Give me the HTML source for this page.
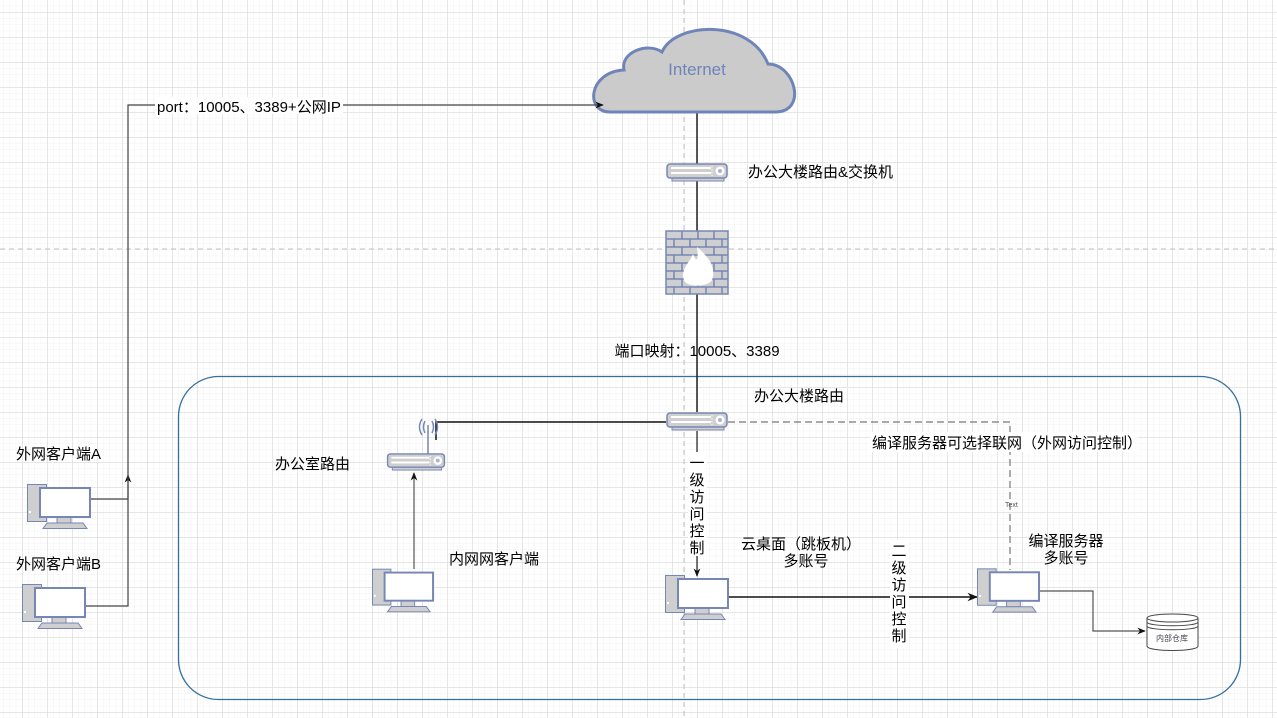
<!DOCTYPE html>
<html><head><meta charset="utf-8"><style>
html,body{margin:0;padding:0;background:#fff;}
svg{display:block;font-family:"Liberation Sans","Noto Sans CJK SC",sans-serif;}
</style></head><body>
<svg width="1277" height="718" viewBox="0 0 1277 718" xmlns="http://www.w3.org/2000/svg">
<defs>
<pattern id="gmin" x="22.5" y="12.5" width="6.25" height="6.25" patternUnits="userSpaceOnUse">
<path d="M6.25 0V6.25M0 6.25H6.25" stroke="#f1f1f1" stroke-width="1" fill="none"/></pattern>
<pattern id="gmaj" x="22.5" y="12.5" width="25" height="25" patternUnits="userSpaceOnUse">
<path d="M0 0V25M0 0H25" stroke="#dcdcdc" stroke-width="1" fill="none"/></pattern>
<symbol id="pc" viewBox="0 0 64 45">
<rect x="0.5" y="0.5" width="19" height="37" fill="#cfcfcf" stroke="#7687b5" stroke-width="1"/>
<rect x="2" y="27" width="2" height="2" fill="#fff"/>
<rect x="30" y="33" width="14" height="6" fill="#cfcfcf" stroke="#7687b5" stroke-width="1"/>
<rect x="13" y="4" width="50" height="29" fill="#fff" stroke="#7687b5" stroke-width="2"/>
<polygon points="16,44.5 60,44.5 56,39 20,39" fill="#cfcfcf" stroke="#7687b5" stroke-width="1"/>
</symbol>
<symbol id="sw" viewBox="0 0 62 19">
<rect x="6" y="14" width="52" height="4" fill="#cfcfcf" stroke="#7687b5"/>
<rect x="1" y="1" width="60" height="14" rx="3" fill="#cfcfcf" stroke="#7687b5" stroke-width="1.5"/>
<g fill="#fff"><rect x="5" y="4" width="40" height="2"/><rect x="5" y="9" width="40" height="2"/></g>
<line x1="46" y1="3" x2="46" y2="13" stroke="#fff" stroke-dasharray="1.5 1.5"/>
<circle cx="54" cy="8" r="4.5" fill="#fff"/><circle cx="54" cy="8" r="2" fill="#a9b4d4"/>
</symbol>
<marker id="ar" viewBox="0 0 10 10" refX="9" refY="5" markerWidth="7" markerHeight="7" orient="auto"><path d="M0 1L10 5L0 9L3 5Z" fill="#111"/></marker>
</defs>
<rect width="1277" height="718" fill="#fff"/>
<rect width="1277" height="718" fill="url(#gmin)"/>
<rect width="1277" height="718" fill="url(#gmaj)"/>
<line x1="684" y1="0" x2="684" y2="718" stroke="#c0c0c0" stroke-dasharray="5 4"/>
<line x1="0" y1="249" x2="1277" y2="249" stroke="#c0c0c0" stroke-dasharray="5 4"/>

<rect x="178.5" y="376.5" width="1062" height="323" rx="40" fill="none" stroke="#336f9e" stroke-width="1.3"/>

<line x1="697" y1="112" x2="697" y2="412" stroke="#222" stroke-width="1.5"/>

<path d="M610 112 C585 112 588 72 624 70 C620 52 648 42 662 52 C675 22 750 18 768 64 C795 64 808 112 775 112 Z" fill="#cbcbcb" stroke="#6f84b8" stroke-width="3"/>
<text x="697" y="75" font-size="17" fill="#6f84b8" text-anchor="middle">Internet</text>

<use href="#sw" x="666" y="163" width="62" height="19"/>
<text x="748" y="177" font-size="15">办公大楼路由&amp;交换机</text>

<g>
<rect x="666" y="231" width="62" height="63" fill="#cfcfcf" stroke="#7687b5" stroke-width="1.5"/>
<g stroke="#7687b5" stroke-width="1.5" fill="none">
<path d="M666 239H728M666 247H728M666 255H728M666 263H728M666 271H728M666 279H728M666 287H728"/>
<path d="M682 231v8M698 231v8M714 231v8M674 239v8M690 239v8M706 239v8M722 239v8M682 247v8M714 247v8M674 255v8M722 255v8M682 263v8M714 263v8M674 271v8M722 271v8M682 279v8M698 279v8M714 279v8M674 287v7M690 287v7M706 287v7M722 287v7"/>
</g>
<path d="M697 247 C710 258 716 268 712 280 C709 287 686 288 684 280 C680 270 690 262 693 254 C696 262 699 262 697 247Z" fill="#fff"/>
</g>

<text x="697" y="356" font-size="15" text-anchor="middle">端口映射：10005、3389</text>
<text x="754" y="401" font-size="15">办公大楼路由</text>

<use href="#sw" x="666" y="412" width="62" height="19"/>

<polyline points="666,422 436,422 436,440" fill="none" stroke="#111" stroke-width="1.5"/>
<g stroke="#7687b5" fill="none" stroke-width="1.5">
<line x1="428" y1="425" x2="428" y2="455"/>
<path d="M425 421q-3 6 0 12M422 419q-5 8 0 16M432 421q3 6 0 12M435 419q5 8 0 16"/>
</g>
<use href="#sw" x="384" y="453" width="64" height="18"/>
<text x="275" y="469" font-size="15">办公室路由</text>

<line x1="414" y1="569" x2="414" y2="473" stroke="#555" stroke-width="1.2" marker-end="url(#ar)"/>
<use href="#pc" x="372" y="568" width="62" height="45"/>
<text x="449" y="564" font-size="15">内网网客户端</text>

<polyline points="728,422 1010,422 1010,570" fill="none" stroke="#777" stroke-width="1.2" stroke-dasharray="7 4"/>
<rect x="870" y="432" width="268" height="20" fill="#fff"/>
<text x="872" y="448" font-size="15">编译服务器可选择联网（外网访问控制）</text>
<text x="1005" y="507" font-size="7" fill="#555">Text</text>

<line x1="697" y1="431" x2="697" y2="576" stroke="#222" stroke-width="1.2" marker-end="url(#ar)"/>
<rect x="688" y="452" width="19" height="104" fill="#fff"/>
<g font-size="15" text-anchor="middle"><text x="697" y="468">一</text><text x="697" y="485">级</text><text x="697" y="502">访</text><text x="697" y="519">问</text><text x="697" y="536">控</text><text x="697" y="553">制</text></g>

<use href="#pc" x="665" y="575" width="64" height="45"/>
<text x="801" y="549" font-size="15" text-anchor="middle">云桌面（跳板机）</text>
<text x="806" y="566" font-size="15" text-anchor="middle">多账号</text>

<line x1="729" y1="597" x2="977" y2="597" stroke="#111" stroke-width="1.5" marker-end="url(#ar)"/>
<rect x="890" y="540" width="19" height="108" fill="#fff"/>
<g font-size="15" text-anchor="middle"><text x="899" y="556">二</text><text x="899" y="573">级</text><text x="899" y="590">访</text><text x="899" y="607">问</text><text x="899" y="624">控</text><text x="899" y="641">制</text></g>

<use href="#pc" x="977" y="568" width="63" height="45"/>
<text x="1066" y="546" font-size="15" text-anchor="middle">编译服务器</text>
<text x="1066" y="563" font-size="15" text-anchor="middle">多账号</text>

<polyline points="1040,591 1093,591 1093,631 1145,631" fill="none" stroke="#555" stroke-width="1.2" marker-end="url(#ar)"/>
<g fill="#fff" stroke="#444" stroke-width="1">
<path d="M1147 618v28c0 6 51 6 51 0v-28"/>
<ellipse cx="1172.5" cy="618" rx="25.5" ry="4"/>
</g>
<path d="M1147 622c0 5 51 5 51 0M1147 626c0 5 51 5 51 0" fill="none" stroke="#444"/>
<text x="1172" y="641" font-size="8" text-anchor="middle" fill="#445">内部仓库</text>

<text x="16" y="459" font-size="15">外网客户端A</text>
<use href="#pc" x="27" y="484" width="64" height="45"/>
<text x="16" y="569" font-size="15">外网客户端B</text>
<use href="#pc" x="22" y="584" width="64" height="45"/>
<polyline points="91,499 128,499 128,475" fill="none" stroke="#444" stroke-width="1.2" marker-end="url(#ar)"/>
<polyline points="86,606 128,606 128,105 603,105" fill="none" stroke="#444" stroke-width="1.2" marker-end="url(#ar)"/>
<rect x="155" y="97" width="188" height="17" fill="#fff"/>
<text x="157" y="112" font-size="15">port：10005、3389+公网IP</text>
</svg>
</body></html>
